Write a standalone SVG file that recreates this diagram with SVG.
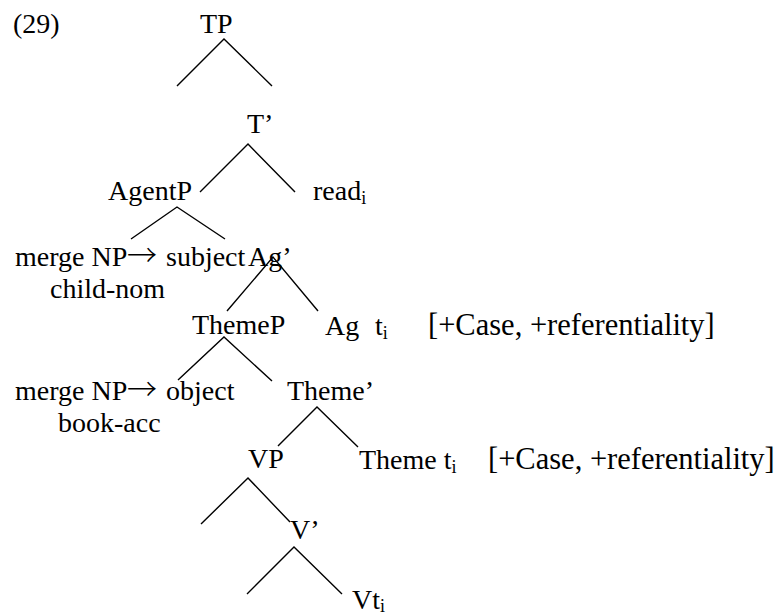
<svg xmlns="http://www.w3.org/2000/svg" width="781" height="615" viewBox="0 0 781 615">
<style>
text { font-family: "Liberation Serif", "Times New Roman", serif; font-size: 28px; fill: #000; }
.sub { font-size: 18px; }
.arrow { font-family: "Noto Sans CJK SC", "DejaVu Sans", sans-serif; font-size: 30px; font-weight: 300; }
.feat { font-size: 30.5px; }
.edge { stroke: #000; stroke-width: 1.4; fill: none; stroke-linecap: butt; }
</style>
<rect width="781" height="615" fill="#fff"/>
<g id="label-29"><text x="13" y="33">(29)</text></g>
<g id="node-TP"><text x="200" y="33">TP</text></g>
<g id="node-Tbar"><text x="247" y="133">T’</text></g>
<g id="node-AgentP"><text x="108" y="200">AgentP</text></g>
<g id="node-read"><text x="313" y="200">read<tspan class="sub" dy="4">i</tspan></text></g>
<g id="node-mergeNP-subject"><text x="15" y="266">merge NP<tspan class="arrow" x="127">→</tspan><tspan x="166">subject</tspan></text><text x="50" y="298">child-nom</text></g>
<g id="node-Agbar"><text x="248" y="266">Ag’</text></g>
<g id="node-ThemeP"><text x="192" y="334">ThemeP</text></g>
<g id="node-Ag-t"><text x="325" y="335">Ag<tspan x="375">t</tspan><tspan class="sub" dy="4">i</tspan></text><text class="feat" x="428" y="335">[+Case, +referentiality]</text></g>
<g id="node-mergeNP-object"><text x="15" y="400">merge NP<tspan class="arrow" x="127">→</tspan><tspan x="166">object</tspan></text><text x="58" y="432">book-acc</text></g>
<g id="node-Themebar"><text x="287" y="400">Theme’</text></g>
<g id="node-VP"><text x="248" y="468">VP</text></g>
<g id="node-Theme-t"><text x="359" y="469">Theme t<tspan class="sub" dy="4">i</tspan></text><text class="feat" x="488" y="469">[+Case, +referentiality]</text></g>
<g id="node-Vbar"><text x="290" y="539">V’</text></g>
<g id="node-Vt"><text x="352" y="609">Vt<tspan class="sub" dy="3">i</tspan></text></g>
<g id="connectors" class="edge">
<path class="edge" d="M177,86 L224,39 L272,86"/>
<path class="edge" d="M200,192 L248,144 L295,192"/>
<path class="edge" d="M131,239 L177,207 L225,239"/>
<path class="edge" d="M227,311 L273,257 L318,311"/>
<path class="edge" d="M178,380 L224,337 L272,381"/>
<path class="edge" d="M278,446 L317,407 L358,447"/>
<path class="edge" d="M201,524 L248,478 L290,522"/>
<path class="edge" d="M247,594 L294,547 L342,594"/>
</g>
</svg>
